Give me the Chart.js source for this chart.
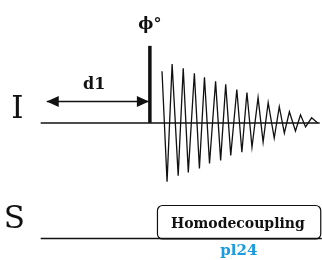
<!DOCTYPE html>
<html>
<head>
<meta charset="utf-8">
<script src="https://cdn.jsdelivr.net/npm/chart.js@4.4.1/dist/chart.umd.min.js"></script>
<style>
  html, body { margin: 0; padding: 0; background: #fff; }
  #wrap { width: 322px; height: 260px; }
</style>
</head>
<body>
<div id="wrap"><canvas id="seq" width="322" height="260"></canvas></div>
<script>
// time axis (x) and amplitude (y); I channel baseline sits at 0, S channel at sBase
const fidTime = [162, 167, 172, 178, 183, 188, 194, 199, 204, 209, 215, 220, 225, 230, 236,
                 241, 246, 251, 257, 262, 267, 273, 278, 283, 288, 294, 299, 304, 310, 316];
const fidAmp  = [51, -58, 58, -52, 54, -49, 49, -45, 45, -40, 41, -37, 38, -32, 33,
                 -29, 30, -24, 25, -19, 20, -15, 16, -10, 11, -8, 8, -4, 5, 0];
const iLine = [42, 318];
const sLine = [42, 320];
const sBase = -114;
const pulseTime = 150;
const pulseHeight = 76;
const d1Span = [48, 149];
const d1Level = 21;
const decTime = [157, 320];
const decTop = -81;
const labels = ['I', 'S', 'd1', 'ϕ°', 'Homodecoupling', 'pl24'];

const fidPoints = fidTime.map((t, i) => ({ x: t, y: fidAmp[i] }));

// Chart.js keeps half the widest line as padding when axes are hidden
const PAD = 1.75;

// arrowheads, text labels and the decoupling box, placed through the chart scales
const seqDecor = {
  id: 'seqDecor',
  afterDatasetsDraw(chart) {
    const { ctx, scales: { x, y } } = chart;
    ctx.save();
    ctx.fillStyle = '#111';
    ctx.strokeStyle = '#111';

    // d1 arrowheads
    const ay = y.getPixelForValue(d1Level);
    [[d1Span[0], 1], [d1Span[1], -1]].forEach(([t, dir]) => {
      const tx = x.getPixelForValue(t);
      ctx.beginPath();
      ctx.moveTo(tx, ay);
      ctx.lineTo(tx + dir * 12, ay - 5.5);
      ctx.lineTo(tx + dir * 12, ay + 5.5);
      ctx.closePath();
      ctx.fill();
    });

    // decoupling box
    const bx = x.getPixelForValue(decTime[0]), bw = x.getPixelForValue(decTime[1]) - bx;
    const by = y.getPixelForValue(decTop), bh = y.getPixelForValue(sBase) - by;
    ctx.lineWidth = 1.2;
    ctx.beginPath();
    ctx.roundRect(bx + 0.5, by + 0.5, bw - 1.5, bh, 5);
    ctx.stroke();

    ctx.textAlign = 'center';
    ctx.textBaseline = 'alphabetic';
    ctx.font = '31px "DejaVu Serif"';
    ctx.fillText(labels[0], x.getPixelForValue(19), y.getPixelForValue(5));
    ctx.fillText(labels[1], x.getPixelForValue(16), y.getPixelForValue(-104));
    ctx.font = 'bold 16px "DejaVu Serif"';
    ctx.fillText(labels[2], x.getPixelForValue(95), y.getPixelForValue(33));
    ctx.textBaseline = 'middle';
    ctx.fillText(labels[3], x.getPixelForValue(150), y.getPixelForValue(97));
    ctx.textBaseline = 'alphabetic';
    ctx.font = 'bold 14px "DejaVu Serif"';
    ctx.fillText(labels[4], x.getPixelForValue(237), y.getPixelForValue(-104));
    ctx.fillStyle = '#1a9be0';
    ctx.font = 'bold 15px "DejaVu Serif"';
    ctx.fillText(labels[5], x.getPixelForValue(238), y.getPixelForValue(-130));
    ctx.restore();
  }
};

const lineStyle = { showLine: true, borderColor: '#111', pointRadius: 0, pointHoverRadius: 0, clip: false };

new Chart(document.getElementById('seq').getContext('2d'), {
  type: 'scatter',
  data: {
    datasets: [
      { ...lineStyle, data: iLine.map(t => ({ x: t, y: 0 })), borderWidth: 1.5 },
      { ...lineStyle, data: sLine.map(t => ({ x: t, y: sBase })), borderWidth: 1.5 },
      { ...lineStyle, data: [{ x: pulseTime, y: 0 }, { x: pulseTime, y: pulseHeight }], borderWidth: 3.5, borderCapStyle: 'butt' },
      { ...lineStyle, data: fidPoints, borderWidth: 1.3, tension: 0 },
      { ...lineStyle, data: d1Span.map(t => ({ x: t, y: d1Level })), borderWidth: 1.5 }
    ]
  },
  options: {
    responsive: false,
    animation: false,
    events: [],
    layout: { padding: 0 },
    plugins: { legend: { display: false }, tooltip: { enabled: false } },
    scales: {
      x: { type: 'linear', min: PAD, max: 322 - PAD, display: false },
      y: { type: 'linear', min: 123 - PAD - (260 - 2 * PAD), max: 123 - PAD, display: false }
    }
  },
  plugins: [seqDecor]
});
</script>
</body>
</html>
